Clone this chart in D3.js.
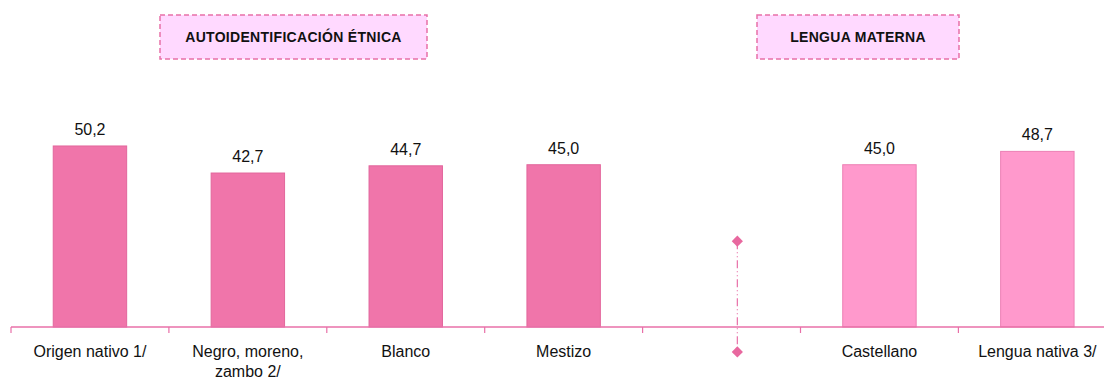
<!DOCTYPE html>
<html>
<head>
<meta charset="utf-8">
<script src="https://cdn.jsdelivr.net/npm/d3@7"></script>
<style>
  body { margin: 0; background: #fff; }
  svg { display: block; font-family: "Liberation Sans", Arial, sans-serif; }
</style>
</head>
<body>
<div id="chart"></div>
<script>
// categorías (la 5ª es el separador vacío)
const categories = ["Origen nativo 1/", "Negro, moreno,\nzambo 2/", "Blanco", "Mestizo", "", "Castellano", "Lengua nativa 3/"];
const values = [50.2, 42.7, 44.7, 45.0, null, 45.0, 48.7];
const groups = ["etnica", "etnica", "etnica", "etnica", null, "lengua", "lengua"];
const separatorValues = [23.8, -6.9];
const groupTitles = ["AUTOIDENTIFICACIÓN ÉTNICA", "LENGUA MATERNA"];

const width = 1104, height = 380;
const axisY = 327;

const svg = d3.select("#chart").append("svg")
    .attr("width", width).attr("height", height);

const x = d3.scaleBand().domain(d3.range(categories.length)).range([11, 11 + 7 * 157.9]).paddingInner(0.535).paddingOuter(0.2675);
const xb = d3.scaleBand().domain(d3.range(categories.length)).range([11, 11 + 7 * 157.9]);
const y = d3.scaleLinear().domain([0, 50]).range([axisY, axisY - 180.3]);

const fills = {etnica: "#f075aa", lengua: "#ff99cc"};
const strokes = {etnica: "#e2669c", lengua: "#ec7fb4"};

const data = categories.map((c, i) => ({i, c, v: values[i], g: groups[i]})).filter(d => d.v != null);

// barras
svg.selectAll("rect.bar").data(data).join("rect")
    .attr("class", "bar")
    .attr("x", d => x(d.i))
    .attr("width", x.bandwidth())
    .attr("y", d => y(d.v))
    .attr("height", d => y(0) - y(d.v))
    .attr("fill", d => fills[d.g])
    .attr("stroke", d => strokes[d.g])
    .attr("stroke-width", 1);

// etiquetas de valor
svg.selectAll("text.val").data(data).join("text")
    .attr("class", "val")
    .attr("x", d => x(d.i) + x.bandwidth() / 2)
    .attr("y", d => y(d.v) - 11)
    .attr("text-anchor", "middle")
    .attr("font-size", 16)
    .attr("fill", "#111")
    .text(d => d3.format(".1f")(d.v).replace(".", ","));

// eje X
const axis = svg.append("g").attr("transform", `translate(0,${axisY})`);
axis.append("line").attr("x1", 11).attr("x2", width).attr("stroke", "#e870a8").attr("stroke-width", 1.5);
axis.selectAll("line.tick").data(d3.range(categories.length + 1)).join("line")
    .attr("class", "tick")
    .attr("x1", i => xb.range()[0] + i * xb.step())
    .attr("x2", i => xb.range()[0] + i * xb.step())
    .attr("y1", 0).attr("y2", 6)
    .attr("stroke", "#e870a8").attr("stroke-width", 1.2);

axis.selectAll("text.cat").data(categories.map((c, i) => ({c, i}))).join("text")
    .attr("class", "cat")
    .attr("x", d => xb(d.i) + xb.bandwidth() / 2)
    .attr("y", 30)
    .attr("text-anchor", "middle")
    .attr("font-size", 16)
    .attr("fill", "#111")
    .each(function(d) {
        d3.select(this).selectAll("tspan").data(d.c.split("\n")).join("tspan")
            .attr("x", xb(d.i) + xb.bandwidth() / 2)
            .attr("dy", (t, k) => k === 0 ? 0 : 20)
            .text(t => t);
    });

// separador (algo desplazado del centro de la categoría vacía)
const sx = xb(4) + xb.step() * 0.6;
svg.append("line")
    .attr("x1", sx).attr("x2", sx)
    .attr("y1", y(separatorValues[0])).attr("y2", y(separatorValues[1]))
    .attr("stroke", "#e870a8").attr("stroke-width", 1.2)
    .attr("stroke-dasharray", "8,3,1,3,1,3");
svg.selectAll("path.sep").data(separatorValues).join("path")
    .attr("class", "sep")
    .attr("d", d3.symbol(d3.symbolDiamond2, 80))
    .attr("transform", d => `translate(${sx},${y(d)})`)
    .attr("fill", "#e8689f");

// títulos de grupo
const boxes = [
    {t: groupTitles[0], x0: 160, x1: 427},
    {t: groupTitles[1], x0: 757, x1: 959}
];
boxes.forEach(b => {
    svg.append("rect")
        .attr("x", b.x0).attr("y", 15)
        .attr("width", b.x1 - b.x0).attr("height", 44)
        .attr("fill", "#ffd9ff")
        .attr("stroke", "#e870a8").attr("stroke-width", 1.5)
        .attr("stroke-dasharray", "5,3");
    svg.append("text")
        .attr("x", (b.x0 + b.x1) / 2).attr("y", 42)
        .attr("text-anchor", "middle")
        .attr("font-size", 14).attr("font-weight", "bold")
        .attr("letter-spacing", 0.3)
        .attr("fill", "#111")
        .text(b.t);
});
</script>
</body>
</html>
